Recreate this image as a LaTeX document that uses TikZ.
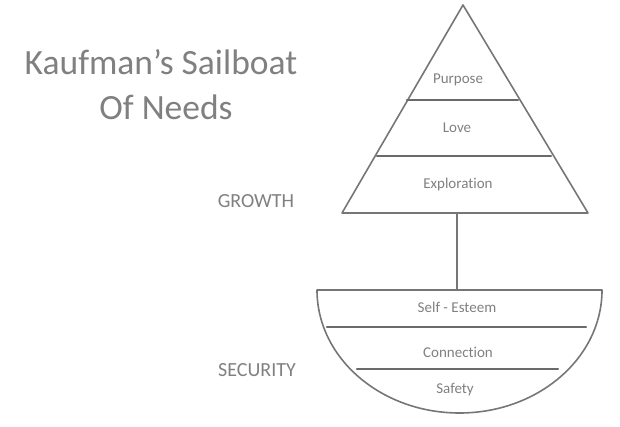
\documentclass[tikz,border=0pt]{standalone}
\usepackage{fontspec}
\setmainfont{Carlito}[Ligatures=NoCommon]
\definecolor{pencil}{RGB}{118,118,118}
\definecolor{ink}{RGB}{128,128,128}
\tikzset{
  outline/.style={draw=pencil,line width=1.6pt,line join=round},
  divider/.style={draw=pencil!90!black,line width=2.2pt,line cap=round},
  lbl/.style={text=ink,font=\fontsize{15}{17}\selectfont,inner sep=0pt},
  side/.style={text=ink,font=\fontsize{20}{23}\selectfont,inner sep=0pt},
  ttl/.style={text=ink,font=\fontsize{35.5}{40}\selectfont,inner sep=0pt,anchor=base}
}
\begin{document}
\begin{tikzpicture}[x=1pt,y=-1pt]
    \useasboundingbox (0,0) rectangle (620,427);
    % title
    \node[ttl] (title1) at (161,75) {Kaufman’s Sailboat};
    \node[ttl] (title2) at (166,120) {Of Needs};
    % sail
    \draw[outline] (463,5) -- (588,213) -- (342,213) -- cycle;
    \draw[divider] (407,100) -- (518,100);
    \draw[divider] (377,156) -- (551,156);
    % hull
    \draw[outline] (602,290) arc[start angle=0,end angle=180,x radius=142.5,y radius=123] -- cycle;
    \draw[divider] (327,327) -- (586,327);
    \draw[divider] (357,369) -- (558,369);
    % mast
    \coordinate (sailbase) at (457,214);
    \coordinate (hulltop) at (457,290);
    \draw[pencil,line width=1.8pt] (sailbase) -- (hulltop);
    % labels
    \node[lbl] (purpose) at (458,80) {Purpose};
    \node[lbl] (love) at (457,128) {Love};
    \node[lbl] (explore) at (458,185) {Exploration};
    \node[lbl] (esteem) at (457,307) {Self - Esteem};
    \node[lbl] (connect) at (458,352) {Connection};
    \node[lbl] (safety) at (455,390) {Safety};
    \node[side] (growth) at (256,201) {GROWTH};
    \node[side] (security) at (257,370) {SECURITY};
  \end{tikzpicture}
\end{document}
